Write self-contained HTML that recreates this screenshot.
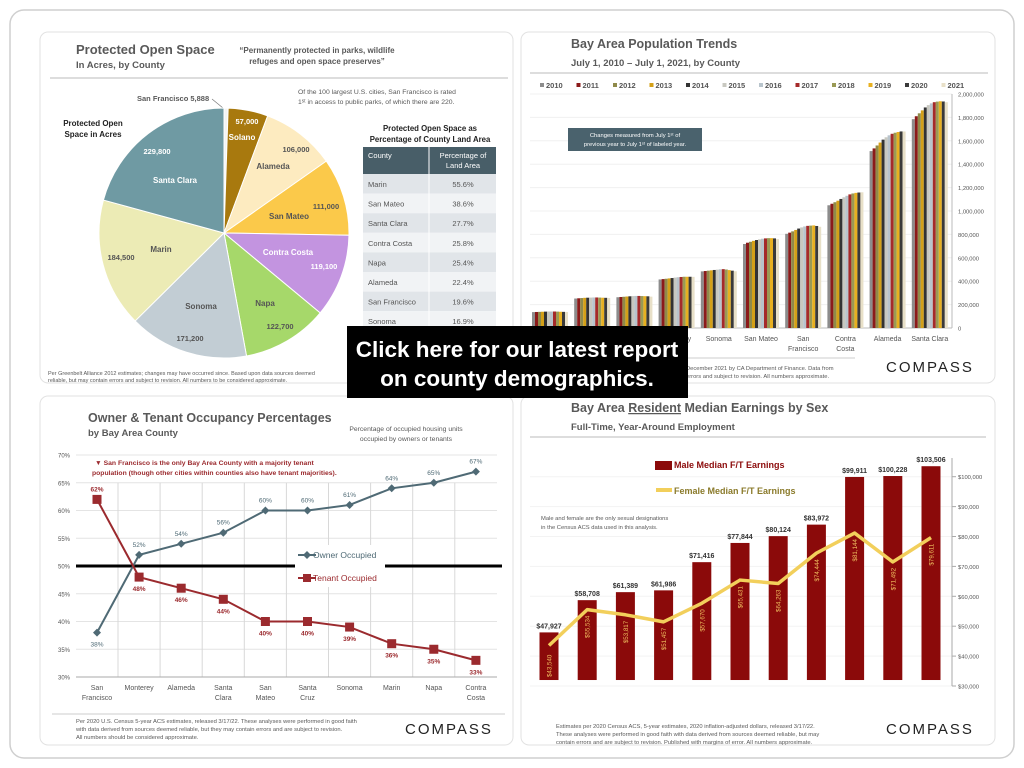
<!DOCTYPE html>
<html><head><meta charset="utf-8"><style>
html,body{margin:0;padding:0;background:#fff;}
svg{display:block;font-family:"Liberation Sans",sans-serif;}
</style></head><body>
<svg id="s" width="1024" height="768" viewBox="0 0 1024 768" xmlns="http://www.w3.org/2000/svg">
<rect x="10" y="10" width="1004" height="748" rx="14" fill="#fff" stroke="#cfcfcf" stroke-width="1.5"/>
<rect x="40" y="32" width="473" height="351" rx="8" fill="#fff" stroke="#e2e2e2"/>
<rect x="521" y="32" width="474" height="351" rx="8" fill="#fff" stroke="#e2e2e2"/>
<rect x="40" y="396" width="473" height="349" rx="8" fill="#fff" stroke="#e2e2e2"/>
<rect x="521" y="396" width="474" height="349" rx="8" fill="#fff" stroke="#e2e2e2"/>

<!-- Top-left -->
<g id="tl" fill="#595959">
<text x="76" y="54" font-size="13" font-weight="bold">Protected Open Space</text>
<text x="76" y="68" font-size="9.5" font-weight="bold">In Acres, by County</text>
<text x="317" y="53" font-size="8" text-anchor="middle" font-weight="bold">“Permanently protected in parks, wildlife</text>
<text x="317" y="64" font-size="8" text-anchor="middle" font-weight="bold">refuges and open space preserves”</text>
<line x1="50" y1="78" x2="508" y2="78" stroke="#bbb"/>
<text x="298" y="94" font-size="6.8">Of the 100 largest U.S. cities, San Francisco is rated</text>
<text x="298" y="104" font-size="6.8">1ˢᵗ in access to public parks, of which there are 220.</text>
<text x="93" y="126" font-size="8" font-weight="bold" fill="#222" text-anchor="middle">Protected Open</text>
<text x="93" y="137" font-size="8" font-weight="bold" fill="#222" text-anchor="middle">Space in Acres</text>
<text x="137" y="101" font-size="7.5" font-weight="bold">San Francisco  5,888</text>
<line x1="212" y1="99" x2="223" y2="108" stroke="#777" stroke-width="0.7"/>
<text x="430" y="131" font-size="7.8" font-weight="bold" fill="#222" text-anchor="middle">Protected Open Space as</text>
<text x="430" y="142" font-size="7.8" font-weight="bold" fill="#222" text-anchor="middle">Percentage of County Land Area</text>
<rect x="363" y="147" width="133" height="27" fill="#485e68"/>
<text x="368" y="158" font-size="7.5" fill="#fff">County</text>
<text x="463" y="158" font-size="7.5" fill="#fff" text-anchor="middle">Percentage of</text>
<text x="463" y="168" font-size="7.5" fill="#fff" text-anchor="middle">Land Area</text>
<g id="table"></g>
<g id="pie"></g>
<text x="48" y="375" font-size="5.5">Per Greenbelt Alliance 2012 estimates; changes may have occurred since. Based upon data sources deemed</text>
<text x="48" y="382" font-size="5.5">reliable, but may contain errors and subject to revision. All numbers to be considered approximate.</text>
</g>

<!-- Top-right -->
<g fill="#595959">
<text x="571" y="48" font-size="12.5" font-weight="bold">Bay Area Population Trends</text>
<text x="571" y="66" font-size="9.5" font-weight="bold">July 1, 2010 – July 1, 2021, by County</text>
<line x1="530" y1="73" x2="988" y2="73" stroke="#bbb"/>
<g id="popgrid"></g>
<g id="poplegend"></g>
<g id="popbars"></g>
<rect x="568" y="128" width="134" height="23" fill="#4a626d"/>
<text x="635" y="137" font-size="5.8" fill="#fff" text-anchor="middle">Changes measured from July 1ˢᵗ of</text>
<text x="635" y="146" font-size="5.8" fill="#fff" text-anchor="middle">previous year to July 1ˢᵗ of labeled year.</text>
<line x1="530" y1="358" x2="855" y2="358" stroke="#ccc"/>
<text x="686" y="370" font-size="5.8">December 2021 by CA Department of Finance. Data from</text>
<text x="686" y="378" font-size="5.8">errors and subject to revision. All numbers approximate.</text>
<text x="886" y="372" font-size="15" fill="#222" letter-spacing="2">COMPASS</text>
</g>

<!-- Bottom-left -->
<g fill="#595959">
<text x="88" y="422" font-size="12.5" font-weight="bold">Owner &amp; Tenant Occupancy Percentages</text>
<text x="88" y="436" font-size="9.5" font-weight="bold">by Bay Area County</text>
<text x="406" y="431" font-size="6.8" text-anchor="middle">Percentage of occupied housing units</text>
<text x="406" y="441" font-size="6.8" text-anchor="middle">occupied by owners or tenants</text>
<g id="occ"></g>
<line x1="52" y1="714" x2="505" y2="714" stroke="#ccc"/>
<text x="76" y="723" font-size="5.8">Per 2020 U.S. Census 5-year ACS estimates, released 3/17/22. These analyses were performed in good faith</text>
<text x="76" y="731" font-size="5.8">with data derived from sources deemed reliable, but they may contain errors and are subject to revision.</text>
<text x="76" y="739" font-size="5.8">All numbers should be considered approximate.</text>
<text x="405" y="734" font-size="15" fill="#222" letter-spacing="2">COMPASS</text>
</g>

<!-- Bottom-right -->
<g fill="#595959">
<text x="571" y="412" font-size="12.5" font-weight="bold">Bay Area <tspan text-decoration="underline">Resident</tspan> Median Earnings by Sex</text>
<text x="571" y="430" font-size="9.5" font-weight="bold">Full-Time, Year-Around Employment</text>
<line x1="530" y1="437" x2="986" y2="437" stroke="#bbb"/>
<g id="earn"></g>
<rect x="655" y="461" width="17" height="9" fill="#8b0a0a"/>
<text x="674" y="468" font-size="9" font-weight="bold" fill="#8b0a0a">Male Median F/T Earnings</text>
<line x1="656" y1="490" x2="672" y2="490" stroke="#f2cf5b" stroke-width="4"/>
<text x="674" y="494" font-size="9" font-weight="bold" fill="#8a7a2a">Female Median F/T Earnings</text>
<text x="541" y="520" font-size="5.8">Male and female are the only sexual designations</text>
<text x="541" y="529" font-size="5.8">in the Census ACS data used in this analysis.</text>
<text x="556" y="728" font-size="5.8">Estimates per 2020 Census ACS, 5-year estimates, 2020 inflation-adjusted dollars, released 3/17/22.</text>
<text x="556" y="736" font-size="5.8">These analyses were performed in good faith with data derived from sources deemed reliable, but may</text>
<text x="556" y="744" font-size="5.8">contain errors and are subject to revision. Published with margins of error. All numbers approximate.</text>
<text x="886" y="734" font-size="15" fill="#222" letter-spacing="2">COMPASS</text>
</g>

<!-- overlay -->
<g>
<rect x="347" y="326" width="341" height="72" fill="#000"/>
<text x="517" y="357" font-size="22.5" font-weight="bold" fill="#fff" text-anchor="middle">Click here for our latest report</text>
<text x="517" y="386" font-size="22.5" font-weight="bold" fill="#fff" text-anchor="middle">on county demographics.</text>
</g>
</svg>
<script>
const NS="http://www.w3.org/2000/svg";
function mk(p,tag,a,txt){const e=document.createElementNS(NS,tag);for(const k in a)e.setAttribute(k,a[k]);if(txt!==undefined)e.textContent=txt;p.appendChild(e);return e;}

// ---- Pie data
const pieNames=["San Francisco","Solano","Alameda","San Mateo","Contra Costa","Napa","Sonoma","Marin","Santa Clara"];
const pieValues=[5888,57000,106000,111000,119100,122700,171200,184500,229800];
const pieLabels=["5,888","57,000","106,000","111,000","119,100","122,700","171,200","184,500","229,800"];
const pieColors=["#f4f4f4","#a8790e","#fdebc0","#fbc94a","#c394e0","#a6d86a","#c2cdd4","#ecebb5","#6f9aa3"];
const pieText=["#555","#fff","#555","#555","#fff","#555","#555","#555","#fff"];
// label layout (pixel offsets from pie centre; layout, not data)
const pieNameOffset=[[0,0],[18,-96],[49,-67],[65,-17],[64,19],[41,70],[-23,73],[-63,16],[-49,-53]];
const pieValueOffset=[[0,0],[23,-112],[72,-84],[102,-27],[100,33],[56,93],[-34,105],[-103,24],[-67,-82]];
// ---- Table data
const tableCounties=["Marin","San Mateo","Santa Clara","Contra Costa","Napa","Alameda","San Francisco","Sonoma"];
const tablePct=["55.6%","38.6%","27.7%","25.8%","25.4%","22.4%","19.6%","16.9%"];
// ---- Population data
const popYears=["2010","2011","2012","2013","2014","2015","2016","2017","2018","2019","2020","2021"];
const popCounties=["Napa","Marin","Santa Cruz","Monterey","Sonoma","San Mateo","San\nFrancisco","Contra\nCosta","Alameda","Santa Clara"];
const popValues=[
[136,137,138,139,140,141,141,141,140,139,138,137],
[252,254,256,258,259,260,261,261,260,259,258,257],
[263,265,267,269,271,273,274,274,273,272,271,268],
[415,418,421,424,427,431,434,436,438,438,438,437],
[484,487,490,493,496,499,502,503,500,495,490,485],
[718,729,737,745,752,758,763,766,768,768,766,760],
[805,815,826,838,850,860,868,873,875,877,872,865],
[1049,1062,1075,1088,1103,1117,1130,1142,1150,1155,1158,1160],
[1512,1535,1560,1585,1610,1630,1647,1660,1669,1675,1680,1680],
[1785,1810,1835,1860,1885,1905,1920,1930,1935,1938,1936,1930]];
const popTicks=[0,200000,400000,600000,800000,1000000,1200000,1400000,1600000,1800000,2000000];
const popColors=["#8c8c8c","#8b1a1a","#8f8a4a","#d4a017","#333333","#c8c8c0","#b8c4cc","#a52a2a","#9a9a55","#e8b020","#3a3a3a","#e8e0c8"];
// ---- Occupancy data
const occCounties=["San\nFrancisco","Monterey","Alameda","Santa\nClara","San\nMateo","Santa\nCruz","Sonoma","Marin","Napa","Contra\nCosta"];
const ownerPct=[38,52,54,56,60,60,61,64,65,67];
const tenantPct=[62,48,46,44,40,40,39,36,35,33];
const occTicks=[30,35,40,45,50,55,60,65,70];
// ---- Earnings data
const maleEarn=[47927,58708,61389,61986,71416,77844,80124,83972,99911,100228,103506];
const femaleEarn=[43540,55534,53817,51457,57670,65431,64263,74444,81144,71492,79611];
const earnTicks=[30000,40000,50000,60000,70000,80000,90000,100000];

const fmt=n=>n.toLocaleString("en-US");

// Pie
(function(){
 const g=document.getElementById("pie"),cx=224,cy=233,r=125;
 const tot=pieValues.reduce((a,b)=>a+b,0);let a0=0;
 pieValues.forEach((v,i)=>{
  const a1=a0+v/tot*2*Math.PI;
  const p=(a,rr)=>[cx+rr*Math.sin(a),cy-rr*Math.cos(a)];
  const [x0,y0]=p(a0,r),[x1,y1]=p(a1,r);
  const s=mk(g,"path",{d:`M${cx},${cy}L${x0},${y0}A${r},${r} 0 ${a1-a0>Math.PI?1:0} 1 ${x1},${y1}Z`,fill:pieColors[i],stroke:"#fff","stroke-width":1});
  
  
  if(i>0){
   const t=mk(g,"text",{x:cx+pieNameOffset[i][0],y:cy+pieNameOffset[i][1]+3,"font-size":8,"font-weight":"bold",fill:pieText[i],"text-anchor":"middle"},pieNames[i]);
   
   
   const t2=mk(g,"text",{x:cx+pieValueOffset[i][0],y:cy+pieValueOffset[i][1]+3,"font-size":7.5,"font-weight":"bold",fill:pieText[i],"text-anchor":"middle"},pieLabels[i]);
   
   
  }
  a0=a1;
 });
})();
// Table
(function(){
 const g=document.getElementById("table");
 tableCounties.forEach((c,i)=>{
  const y=174+i*19.6;
  const r=mk(g,"rect",{x:363,y:y,width:133,height:19.6,fill:i%2?"#f1f3f5":"#e1e5e9"});
  
  
  const t=mk(g,"text",{x:368,y:y+13,"font-size":7.5,fill:"#555"},c);
  
  
  const t2=mk(g,"text",{x:463,y:y+13,"font-size":7.5,fill:"#555","text-anchor":"middle"},tablePct[i]);
  
  
 });
 const l=mk(g,"line",{x1:429,y1:147,x2:429,y2:330,stroke:"#fff"});
 
 
})();
// Population
(function(){
 const gg=document.getElementById("popgrid"),gb=document.getElementById("popbars"),gl=document.getElementById("poplegend");
 const y=v=>328-v/2000000*234, x0=550, step=42.2, bw=3;
 popTicks.forEach(t=>{
  const l=mk(gg,"line",{x1:530,x2:952,y1:y(t),y2:y(t),stroke:"#f0f0f0"});
  
  
  const tx=mk(gg,"text",{x:958,y:y(t)+2.5,"font-size":5.8,fill:"#555"},fmt(t));
  
  
 });
 mk(gg,"line",{x1:952,x2:952,y1:94,y2:328,stroke:"#bbb"});
 mk(gg,"line",{x1:530,x2:952,y1:328,y2:328,stroke:"#bbb"});
 popCounties.forEach((c,ci)=>{
  const cx=x0+ci*step;
  popValues[ci].forEach((v,yi)=>{
   const b=mk(gb,"rect",{x:cx-18+yi*bw,y:y(v*1000),width:bw,height:328-y(v*1000),fill:popColors[yi]});
   
   
  });
  c.split("\n").forEach((ln,k)=>{
   const t=mk(gb,"text",{x:cx,y:341+k*10,"font-size":7,fill:"#555","text-anchor":"middle"},ln);
   
   
  });
 });
 popYears.forEach((yr,i)=>{
  const lx=540+i*36.5;
  const s=mk(gl,"rect",{x:lx,y:83,width:4,height:4,fill:popColors[i]});
  
  
  const t=mk(gl,"text",{x:lx+6,y:88,"font-size":7.5,"font-weight":"bold",fill:"#555"},yr);
  
  
 });
})();
// Occupancy
(function(){
 const g=document.getElementById("occ");
 const y=v=>677-(v-30)/40*222, x=i=>97+i*42.1;
 occTicks.forEach(t=>{
  const l=mk(g,"line",{x1:76,x2:497,y1:y(t),y2:y(t),stroke:"#e4e4e4"});
  
  
  const tx=mk(g,"text",{x:70,y:y(t)+2.5,"font-size":6,fill:"#555","text-anchor":"end"},t+"%");
  
  
 });
 occCounties.forEach((c,i)=>{
  if(i<occCounties.length-1){const l=mk(g,"line",{x1:x(i)+21,x2:x(i)+21,y1:y(65),y2:y(30),stroke:"#d8d8d8"});
  
  }
  c.split("\n").forEach((ln,k)=>{
   const t=mk(g,"text",{x:x(i),y:690+k*10,"font-size":7,fill:"#555","text-anchor":"middle"},ln);
   
   
  });
 });
 mk(g,"line",{x1:76,x2:497,y1:677,y2:677,stroke:"#aaa"});
 const nt1=mk(g,"text",{x:95,y:465,"font-size":6.8,"font-weight":"bold",fill:"#9b2a2e"},"▼ San Francisco is the only Bay Area County with a majority tenant");
 
 
 const nt2=mk(g,"text",{x:92,y:475,"font-size":6.8,"font-weight":"bold",fill:"#9b2a2e"},"population (though other cities within counties also have tenant majorities).");
 
 
 const l50=mk(g,"line",{x1:76,x2:502,y1:y(50),y2:y(50),stroke:"#000","stroke-width":3});
 
 
 const lg=mk(g,"rect",{x:295,y:545,width:90,height:42,fill:"#fff"});
 
 
 const series=[[ownerPct,"#4f6a75","owner"],[tenantPct,"#9b2a2e","tenant"]];
 series.forEach(([d,col,nm])=>{
  const pl=mk(g,"polyline",{points:d.map((v,i)=>x(i)+","+y(v)).join(" "),fill:"none",stroke:col,"stroke-width":2});
  
  
  d.forEach((v,i)=>{
   let m;
   if(nm==="owner"){m=mk(g,"path",{d:`M${x(i)},${y(v)-4}l4,4l-4,4l-4,-4z`,fill:col});}
   else{m=mk(g,"rect",{x:x(i)-4.5,y:y(v)-4.5,width:9,height:9,fill:col});}
   
   
   const above=nm==="owner"?(i>0):(i===0);
   const t=mk(g,"text",{x:x(i),y:above?y(v)-8:y(v)+14,"font-size":6.5,"font-weight":nm==="tenant"?"bold":"normal",fill:col,"text-anchor":"middle"},v+"%");
   
   
  });
 });
 const o1=mk(g,"line",{x1:298,x2:316,y1:555,y2:555,stroke:"#4f6a75","stroke-width":2});
 
 
 mk(g,"path",{d:"M307,551l4,4l-4,4l-4,-4z",fill:"#4f6a75"});
 const o2=mk(g,"text",{x:313,y:558,"font-size":8.5,fill:"#4f6a75"},"Owner Occupied");
 
 
 const t1=mk(g,"line",{x1:298,x2:316,y1:578,y2:578,stroke:"#9b2a2e","stroke-width":2});
 
 
 mk(g,"rect",{x:303,y:574,width:8,height:8,fill:"#9b2a2e"});
 const t2=mk(g,"text",{x:313,y:581,"font-size":8.5,fill:"#9b2a2e"},"Tenant Occupied");
 
 
})();
// Earnings
(function(){
 const g=document.getElementById("earn");
 const y=v=>686-(v-30000)/10000*29.9, x=i=>549+i*38.2, bw=19, base=y(32000);
 earnTicks.forEach(t=>{
  const l=mk(g,"line",{x1:530,x2:952,y1:y(t),y2:y(t),stroke:"#f3f3f3"});
  
  
  const tk=mk(g,"line",{x1:952,x2:956,y1:y(t),y2:y(t),stroke:"#aaa"});
  
  
  const tx=mk(g,"text",{x:958,y:y(t)+2.5,"font-size":5.8,fill:"#555"},"$"+fmt(t));
  
  
 });
 mk(g,"line",{x1:952,x2:952,y1:458,y2:686,stroke:"#aaa"});
 maleEarn.forEach((v,i)=>{
  const b=mk(g,"rect",{x:x(i)-bw/2,y:y(v),width:bw,height:base-y(v),fill:"#8b0a0a"});
  
  
  const t=mk(g,"text",{x:x(i),y:y(v)-4,"font-size":7,"font-weight":"bold",fill:"#333","text-anchor":"middle"},"$"+fmt(v));
  
  
 });
 const pl=mk(g,"polyline",{points:femaleEarn.map((v,i)=>x(i)+","+y(v)).join(" "),fill:"none",stroke:"#f2cf5b","stroke-width":3.5,"stroke-linejoin":"round"});
 
 
 femaleEarn.forEach((v,i)=>{
  const ty=i===0?base-3:y(v)+6;
  const t=mk(g,"text",{x:x(i)+2.5,y:ty,"font-size":6.2,fill:"#f0c060","text-anchor":i===0?"start":"end",transform:`rotate(-90 ${x(i)+2.5} ${ty})`},"$"+fmt(v));
  
  
 });
})();
</script>
</body></html>
